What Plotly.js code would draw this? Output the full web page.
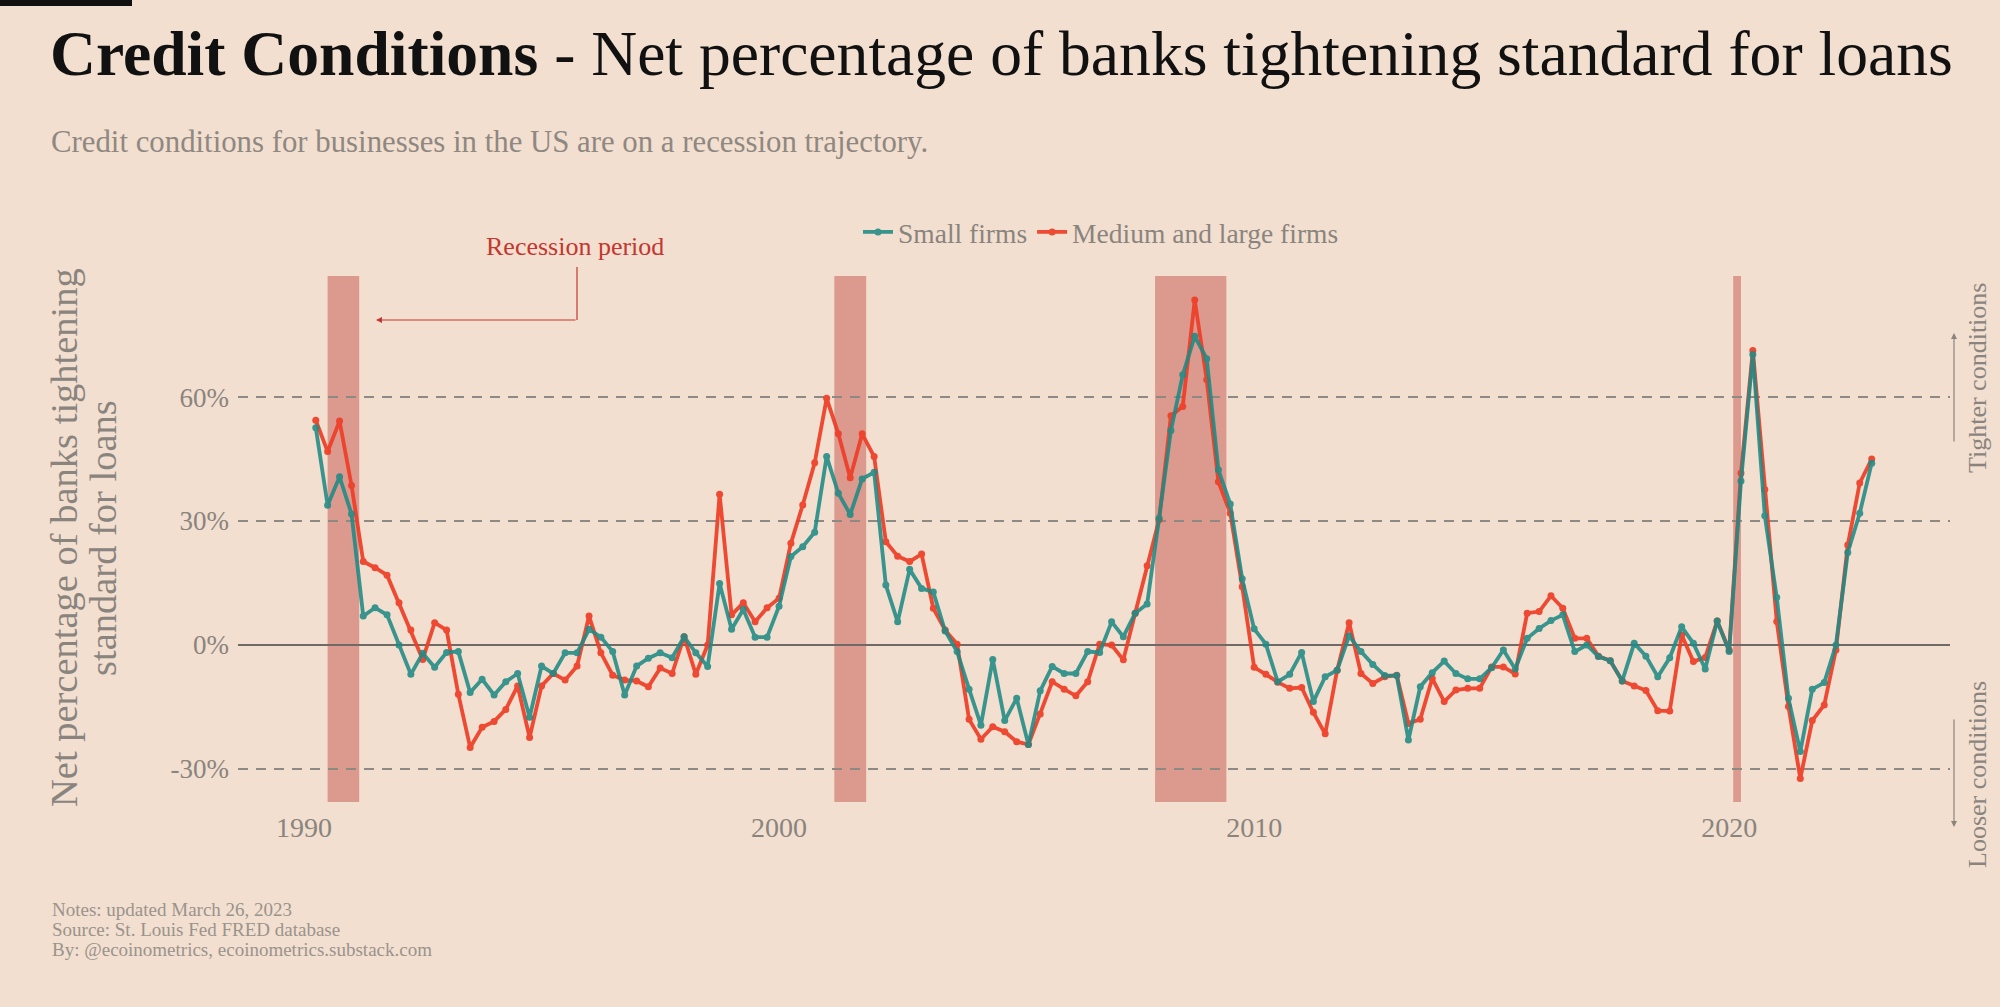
<!DOCTYPE html>
<html>
<head>
<meta charset="utf-8">
<script src="https://cdn.plot.ly/plotly-3.0.1.min.js"></script>
<style>
html,body{margin:0;padding:0;background:#f2dfcf;}
#chart{width:2000px;height:1007px;}
</style>
</head>
<body>
<div id="chart"></div>
<script>
// ---- Data (quarterly, 1990 Q2 .. 2023 Q1) ----
var startYear = 1990, startQuarter = 2, nQuarters = 132;
var mediumLargeFirms = [
 54.4, 46.8, 54.2, 38.6, 20.2, 18.7, 16.9, 10.2, 3.6, -3.5,
 5.4, 3.6, -11.9, -24.8, -19.9, -18.5, -15.6, -9.9, -22.4, -9.9,
 -6.9, -8.5, -5.1, 7.0, -1.9, -7.3, -8.5, -8.7, -10.1, -5.6,
 -6.9, 2.0, -7.1, 0.0, 36.5, 7.3, 10.2, 5.6, 9.0, 11.3,
 24.6, 33.9, 44.1, 59.7, 51.1, 40.5, 51.1, 45.6, 25.0, 21.5,
 20.2, 22.0, 8.9, 3.6, 0.2, -18.0, -22.8, -19.8, -21.0, -23.4,
 -24.1, -16.7, -8.9, -10.7, -12.3, -8.9, 0.2, 0.0, -3.6, 7.7,
 19.2, 30.3, 55.5, 57.7, 83.5, 64.2, 39.5, 31.9, 14.1, -5.4,
 -7.1, -9.0, -10.5, -10.3, -16.3, -21.5, -6.1, 5.4, -6.9, -9.3,
 -7.7, -7.3, -19.0, -18.0, -8.1, -13.7, -10.9, -10.5, -10.5, -5.3,
 -5.3, -7.0, 7.7, 8.1, 11.9, 8.9, 1.6, 1.6, -2.7, -3.8,
 -8.7, -9.9, -11.0, -15.9, -16.0, 2.4, -4.0, -3.0, 5.8, -1.2,
 41.6, 71.3, 37.6, 5.7, -14.9, -32.3, -18.3, -14.5, -1.2, 24.2, 39.2, 45.0
];
var smallFirms = [
 52.6, 33.8, 40.7, 31.7, 7.0, 9.0, 7.3, 0.0, -7.1, -2.0,
 -5.4, -1.8, -1.6, -11.5, -8.3, -12.1, -8.9, -6.9, -17.5, -5.1,
 -6.9, -1.9, -1.9, 3.8, 1.9, -1.6, -12.1, -5.1, -3.2, -1.9,
 -3.1, 2.0, -1.9, -5.2, 14.9, 3.8, 8.6, 1.9, 1.9, 9.4,
 21.4, 23.8, 27.3, 45.6, 36.7, 31.6, 40.2, 41.8, 14.5, 5.6,
 18.3, 13.7, 12.8, 3.4, -1.6, -10.7, -19.4, -3.5, -18.3, -12.9,
 -24.1, -11.1, -5.2, -6.9, -6.9, -1.6, -1.8, 5.6, 2.0, 7.7,
 9.9, 30.7, 51.9, 65.4, 74.7, 69.3, 42.4, 34.1, 16.0, 3.9,
 0.2, -8.9, -7.1, -1.8, -13.7, -7.7, -6.1, 2.2, -1.6, -4.7,
 -7.4, -7.4, -23.0, -10.1, -6.7, -3.9, -6.9, -8.2, -8.2, -5.5,
 -1.2, -5.8, 1.6, 4.0, 5.9, 7.3, -1.6, 0.0, -2.8, -3.8,
 -8.7, 0.4, -2.7, -7.7, -3.1, 4.4, 0.4, -5.8, 5.8, -1.6,
 39.7, 70.3, 31.3, 11.5, -12.9, -25.8, -10.7, -9.1, 0.0, 22.4, 31.9, 44.0
];
var recessionStarts = ['1990-07-01', '2001-03-01', '2007-12-01', '2020-02-01'];
var recessionEnds   = ['1991-03-01', '2001-11-01', '2009-06-01', '2020-04-01'];
var xTickVals = ['1990-01-01', '2000-01-01', '2010-01-01', '2020-01-01'];
var xTickText = ['1990', '2000', '2010', '2020'];
var yTickVals = [-30, 0, 30, 60];
var yTickText = ['-30%', '0%', '30%', '60%'];

// quarterly dates
var quarters = [];
for (var i = 0; i < nQuarters; i++) {
  var q = (startQuarter - 1) + i;
  var yr = startYear + Math.floor(q / 4);
  var m = (q % 4) * 3 + 1;
  quarters.push(yr + '-' + (m < 10 ? '0' + m : m) + '-01');
}

// ---- Layout helpers ----
var W = 2000, H = 1007;
var ML = 238, MR = 50, MT = 276, MB = 205;
var PW = W - ML - MR, PH = H - MT - MB;
function px(x) { return (x - ML) / PW; }
function py(y) { return (H - MB - y) / PH; }

var FONT = 'Liberation Serif, Georgia, serif';
var GREY = '#8a847f';
var RED = '#ee3d26', TEAL = '#1f8a85', RECRED = '#c4362f';

var traces = [
  {
    x: quarters, y: mediumLargeFirms, name: 'Medium and large firms',
    type: 'scatter', mode: 'lines+markers', legendrank: 2,
    line: {color: RED, width: 3.8}, marker: {color: RED, size: 7},
    opacity: 0.92
  },
  {
    x: quarters, y: smallFirms, name: 'Small firms',
    type: 'scatter', mode: 'lines+markers', legendrank: 1,
    line: {color: TEAL, width: 3.8}, marker: {color: TEAL, size: 7},
    opacity: 0.88
  }
];

var shapes = [];
for (var r = 0; r < recessionStarts.length; r++) {
  shapes.push({type: 'rect', xref: 'x', yref: 'paper',
    x0: recessionStarts[r], x1: recessionEnds[r], y0: 0, y1: 1,
    fillcolor: '#dc9a8e', line: {width: 0}, layer: 'below'});
}
shapes.push({type: 'line', xref: 'paper', yref: 'paper',
  x0: px(577), x1: px(577), y0: py(267), y1: py(320),
  line: {color: RECRED, width: 1.2}});
shapes.push({type: 'rect', xref: 'paper', yref: 'paper',
  x0: px(0), x1: px(132), y0: py(0), y1: py(6),
  fillcolor: '#111111', line: {width: 0}});

function ann(text, x, y, opts) {
  var a = {text: text, xref: 'paper', yref: 'paper', x: px(x), y: py(y),
    showarrow: false, xanchor: 'center', yanchor: 'middle',
    font: {family: FONT, size: 26, color: GREY}};
  for (var k in opts) a[k] = opts[k];
  return a;
}

var annotations = [
  ann('<b>Credit Conditions</b> - Net percentage of banks tightening standard for loans', 48, 53,
      {xanchor: 'left', font: {family: FONT, size: 63.6, color: '#111111'}}),
  ann('Credit conditions for businesses in the US are on a recession trajectory.', 49, 142,
      {xanchor: 'left', font: {family: FONT, size: 30.8, color: '#8f8882'}}),
  ann('Net percentage of banks tightening', 64, 538,
      {textangle: -90, font: {family: FONT, size: 38.5, color: GREY}}),
  ann('standard for loans', 103, 538,
      {textangle: -90, font: {family: FONT, size: 38.5, color: GREY}}),
  ann('Recession period', 575, 246,
      {font: {family: FONT, size: 26, color: RECRED}}),
  {text: '', xref: 'paper', yref: 'paper', x: px(376), y: py(320), ax: 201, ay: 0,
   showarrow: true, arrowhead: 2, arrowsize: 1, arrowwidth: 1.2, arrowcolor: RECRED, standoff: 0},
  {text: '', xref: 'paper', yref: 'paper', x: px(1954), y: py(333), ax: 0, ay: 110,
   showarrow: true, arrowhead: 2, arrowsize: 1, arrowwidth: 1.2, arrowcolor: GREY, standoff: 0},
  {text: '', xref: 'paper', yref: 'paper', x: px(1954), y: py(827), ax: 0, ay: -109,
   showarrow: true, arrowhead: 2, arrowsize: 1, arrowwidth: 1.2, arrowcolor: GREY, standoff: 0},
  ann('Tighter conditions', 1977, 378, {textangle: -90}),
  ann('Looser conditions', 1977, 775, {textangle: -90}),
  ann('Notes: updated March 26, 2023', 50, 909,
      {xanchor: 'left', font: {family: FONT, size: 19, color: '#9a938d'}}),
  ann('Source: St. Louis Fed FRED database', 50, 929,
      {xanchor: 'left', font: {family: FONT, size: 19, color: '#9a938d'}}),
  ann('By: @ecoinometrics, ecoinometrics.substack.com', 50, 949,
      {xanchor: 'left', font: {family: FONT, size: 19, color: '#9a938d'}})
];

var layout = {
  width: W, height: H,
  margin: {l: ML, r: MR, t: MT, b: MB, pad: 0},
  paper_bgcolor: '#f2dfcf', plot_bgcolor: '#f2dfcf',
  font: {family: FONT, color: GREY},
  showlegend: true,
  legend: {orientation: 'h', x: px(1101), xanchor: 'center', y: py(232), yanchor: 'middle',
    bgcolor: 'rgba(0,0,0,0)', font: {family: FONT, size: 27.5, color: GREY}},
  xaxis: {type: 'date', range: ['1988-08-11', '2024-08-25'],
    tickvals: xTickVals, ticktext: xTickText, showgrid: false, zeroline: false,
    showline: false, ticks: '', ticklabelstandoff: 6,
    tickfont: {family: FONT, size: 28, color: GREY}},
  yaxis: {range: [-38.0, 89.3], tickvals: yTickVals, ticktext: yTickText,
    showgrid: true, gridcolor: '#8f8983', gridwidth: 1.5, griddash: '10px,8px',
    zeroline: true, zerolinecolor: '#6f6a66', zerolinewidth: 1.5,
    showline: false, ticks: '', ticklabelstandoff: 8,
    tickfont: {family: FONT, size: 27, color: GREY}},
  shapes: shapes,
  annotations: annotations
};

Plotly.newPlot('chart', traces, layout, {staticPlot: true, displayModeBar: false});
</script>
</body>
</html>
